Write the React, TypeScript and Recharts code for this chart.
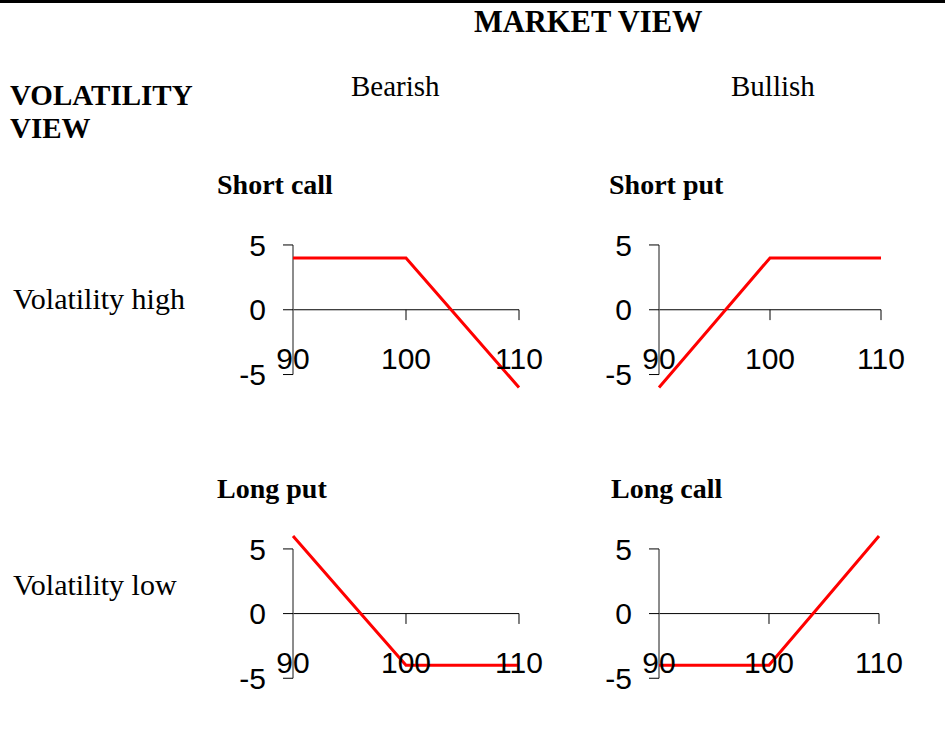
import { LineChart, Line, XAxis, YAxis, ReferenceLine } from "recharts";

// underlying price at expiry
const strikes = [90, 95, 100, 105, 110];

// payoff of each strategy (strike 100, premium 4)
const shortCall = [4, 4, 4, -1, -6];
const shortPut = [-6, -1, 4, 4, 4];
const longPut = [6, 1, -4, -4, -4];
const longCall = [-4, -4, -4, 1, 6];

const xTicks = [90, 100, 110];
const yTicks = [-5, 0, 5];

const serif = '"Liberation Serif", "Times New Roman", serif';
const sans = '"Liberation Sans", Arial, sans-serif';

// x tick length, in payoff units (about 10px)
const TICK_LEN = 0.8;

function XTick(props: any) {
  const { x, y, payload } = props;
  return (
    <text x={x} y={y - 18.5} textAnchor="middle" fontSize={30} fontFamily={sans} fill="#000">
      {payload.value}
    </text>
  );
}

function Panel({
  values,
  left,
  top,
  plotW,
  plotH,
}: {
  values: number[];
  left: number;
  top: number;
  plotW: number;
  plotH: number;
}) {
  const data = strikes.map((s, i) => ({ s, v: values[i] }));
  const yAxisW = 60;
  const mTop = 20;
  const mRight = 40;
  const mBottom = 10;
  const width = yAxisW + plotW + mRight;
  const height = mTop + plotH + mBottom + 1;

  return (
    <div style={{ position: "absolute", left: left - yAxisW, top: top - mTop }}>
      <LineChart
        width={width}
        height={height}
        data={data}
        margin={{ top: mTop, right: mRight, bottom: mBottom, left: 0 }}
      >
        <XAxis
          dataKey="s"
          type="number"
          domain={[90, 110]}
          ticks={xTicks}
          interval={0}
          axisLine={false}
          tickLine={false}
          tickSize={0}
          tickMargin={0}
          height={1}
          tick={<XTick />}
        />
        <YAxis
          type="number"
          domain={[-6, 6]}
          ticks={yTicks}
          interval={0}
          width={yAxisW}
          axisLine={false}
          tickSize={10}
          tickMargin={17}
          tickLine={{ stroke: "#000" }}
          tick={{ fill: "#000", fontSize: 30, fontFamily: sans }}
        />
        <ReferenceLine y={0} stroke="#000" />
        <ReferenceLine
          segment={[
            { x: 90, y: -5 },
            { x: 90, y: 5 },
          ]}
          stroke="#666"
          strokeWidth={1.5}
        />
        {[100, 110].map((t) => (
          <ReferenceLine
            key={t}
            segment={[
              { x: t, y: 0 },
              { x: t, y: -TICK_LEN },
            ]}
            stroke="#000"
          />
        ))}
        <Line
          dataKey="v"
          type="linear"
          stroke="#ff0000"
          strokeWidth={3}
          dot={false}
          isAnimationActive={false}
        />
      </LineChart>
    </div>
  );
}

export default function App() {
  return (
    <div style={{ position: "absolute", left: 0, top: 0, width: 952, height: 733, background: "#fff" }}>
      <svg width={952} height={733} style={{ position: "absolute", left: 0, top: 0 }}>
        <rect x={0} y={0} width={945} height={3} fill="#000" />
        <g fontFamily={serif} fill="#000">
          <text x={474} y={32} fontSize={30.5} fontWeight="bold">MARKET VIEW</text>
          <text x={10} y={105} fontSize={29} fontWeight="bold">VOLATILITY</text>
          <text x={10} y={138} fontSize={29} fontWeight="bold">VIEW</text>
          <text x={351} y={96} fontSize={29}>Bearish</text>
          <text x={731} y={96} fontSize={29}>Bullish</text>
          <text x={217} y={194} fontSize={28} fontWeight="bold">Short call</text>
          <text x={609} y={194} fontSize={28} fontWeight="bold">Short put</text>
          <text x={217} y={498} fontSize={28} fontWeight="bold">Long put</text>
          <text x={611} y={498} fontSize={28} fontWeight="bold">Long call</text>
          <text x={13} y={309} fontSize={30}>Volatility high</text>
          <text x={13} y={595} fontSize={30}>Volatility low</text>
        </g>
      </svg>
      <Panel values={shortCall} left={292.5} top={231.7} plotW={226} plotH={155.5} />
      <Panel values={shortPut} left={659} top={232.2} plotW={222} plotH={155.5} />
      <Panel values={longPut} left={292.7} top={535.9} plotW={226} plotH={155.2} />
      <Panel values={longCall} left={659} top={536.4} plotW={220} plotH={155.2} />
    </div>
  );
}
